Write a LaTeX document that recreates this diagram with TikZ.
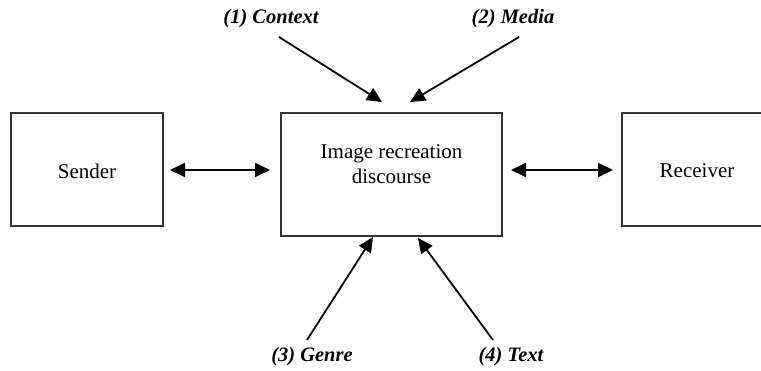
\documentclass[tikz,border=0pt]{standalone}
\usepackage{fontspec}
\setmainfont{Liberation Serif}
\usetikzlibrary{arrows.meta}
\begin{document}
\begin{tikzpicture}[x=1pt,y=-1pt,
  box/.style={draw=black!80,line width=1.8pt,rectangle,inner sep=0pt},
  boxtext/.style={font=\fontsize{21}{25}\selectfont,align=center,inner sep=0pt},
  lbl/.style={font=\fontsize{20.5}{24}\selectfont\bfseries\itshape,inner sep=0pt},
  arr/.style={line width=1.8pt,-{Triangle[length=15pt,width=14pt]}},
  darr/.style={line width=1.8pt,{Triangle[length=15pt,width=14pt]}-{Triangle[length=15pt,width=14pt]}}]
\useasboundingbox (0,0) rectangle (761,371);
\begin{scope}
\clip (0,0) rectangle (761,371);
\node[box,minimum width=152pt,minimum height=113pt] (sender) at (87,169.5) {};
\node[box,minimum width=221pt,minimum height=123pt] (main) at (391.5,174.5) {};
\node[box,minimum width=152pt,minimum height=113pt] (receiver) at (698,169.5) {};
\end{scope}
\node[boxtext] (sendertxt) at (87,171) {Sender};
\node[boxtext] (receivertxt) at (697,171) {Receiver};
\node[boxtext] (maintxt) at (391.5,164) {Image recreation\\discourse};

\node[lbl] (l1) at (271,19) {(1) Context};
\node[lbl] (l2) at (513,19) {(2) Media};
\node[lbl] (l3) at (312,357) {(3) Genre};
\node[lbl] (l4) at (511,357) {(4) Text};

\coordinate (s1) at (279,37);
\coordinate (t1) at (382,102);
\coordinate (s2) at (519,37);
\coordinate (t2) at (410,102);
\coordinate (s3) at (307,340);
\coordinate (t3) at (373,237);
\coordinate (s4) at (493,340);
\coordinate (t4) at (418,238);
\draw[arr] (s1) -- (t1);
\draw[arr] (s2) -- (t2);
\draw[arr] (s3) -- (t3);
\draw[arr] (s4) -- (t4);

\coordinate (a1) at (170,170);
\coordinate (b1) at (270,170);
\coordinate (a2) at (511,170);
\coordinate (b2) at (613,170);
\draw[darr] (a1) -- (b1);
\draw[darr] (a2) -- (b2);
\end{tikzpicture}
\end{document}
